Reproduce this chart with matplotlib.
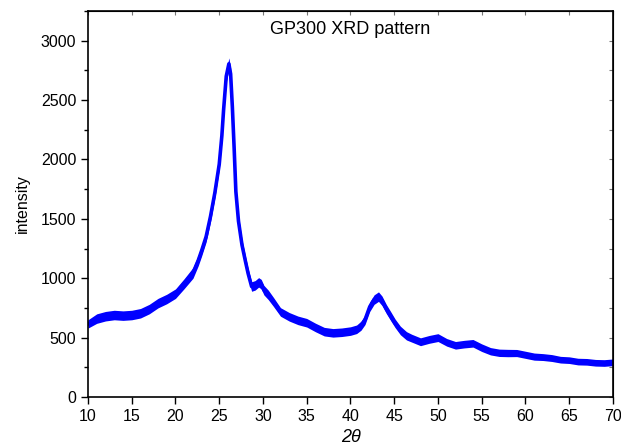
import matplotlib
matplotlib.use("Agg")
import matplotlib.pyplot as plt
from matplotlib.ticker import MultipleLocator

plt.rcParams['font.family'] = ['Liberation Sans', 'DejaVu Sans']

# values (centre of the noisy trace)
two_theta = [10, 11, 12, 13, 14, 15, 16, 17, 18, 19, 20, 21, 22,
             22.6, 23, 23.5, 24, 24.5, 25, 25.3, 25.5, 25.8, 26.1, 26.3, 26.5, 26.7,
             26.9, 27.2, 27.6, 28, 28.3, 28.7, 29.1, 29.5, 29.8, 30.1, 30.6, 31.2,
             32, 33, 34, 35, 36, 37, 38, 39, 40,
             40.7, 41.2, 41.66, 42.2, 42.7, 43.2, 43.6, 44.1, 44.6, 45.1, 45.7, 46.4,
             47, 48, 49, 50, 51, 52, 53, 54, 55, 56, 57, 58, 59, 60, 61, 62,
             63, 64, 65, 66, 67, 68, 69, 70]
intensity = [615, 660, 680, 690, 685, 690, 705, 740, 790, 825, 870, 955, 1045,
             1150, 1235, 1350, 1520, 1720, 1960, 2200, 2420, 2700, 2805, 2720, 2440, 2100,
             1730, 1480, 1280, 1140, 1040, 930, 940, 965, 950, 900, 860, 800,
             716, 675, 645, 625, 585, 550, 540, 545, 555,
             570, 600, 650, 760, 820, 845, 810, 740, 680, 620, 560, 515,
             495, 465, 485, 500, 460, 435, 445, 452, 415, 385, 372, 370, 370, 355, 340, 336,
             328, 314, 310, 298, 296, 288, 286, 292]
# half width of the noise band around the trace
spread = [35, 40, 40, 40, 40, 40, 40, 40, 40, 40, 40, 42, 45,
          45, 45, 45, 45, 45, 45, 50, 50, 50, 50, 50, 50, 50,
          45, 45, 45, 45, 42, 40, 40, 40, 40, 40, 40, 38,
          36, 36, 36, 36, 36, 36, 36, 36, 36,
          36, 38, 40, 40, 40, 40, 40, 38, 38, 36, 36, 35,
          33, 33, 33, 33, 32, 32, 32, 32, 32, 31, 31, 31, 30, 30, 30, 29,
          29, 28, 28, 28, 28, 28, 28, 28]

lower = [v - s for v, s in zip(intensity, spread)]
upper = [v + s for v, s in zip(intensity, spread)]

fig = plt.figure(figsize=(6.21, 4.47), dpi=100)
ax = fig.add_axes([0.1417, 0.1119, 0.8454, 0.8635])

ax.fill_between(two_theta, lower, upper, color='#0000ff', lw=0)
ax.plot(two_theta, intensity, color='#0000ff', lw=2.6)

ax.set_xlim(10, 70)
ax.set_ylim(0, 3250)
ax.xaxis.set_major_locator(MultipleLocator(5))
ax.yaxis.set_major_locator(MultipleLocator(500))
ax.yaxis.set_minor_locator(MultipleLocator(250))

ax.tick_params(axis='both', which='major', direction='out', length=5,
               width=1, labelsize=11.5, top=False, right=False)
ax.tick_params(axis='y', which='minor', direction='out', length=3, width=1)
for s in ax.spines.values():
    s.set_linewidth(1.2)

# secondary inward ticks on top and right
sec_x = ax.secondary_xaxis('top')
sec_x.xaxis.set_major_locator(MultipleLocator(5))
sec_x.tick_params(direction='in', length=3, labeltop=False, color='#777777')
sec_y = ax.secondary_yaxis('right')
sec_y.yaxis.set_major_locator(MultipleLocator(250))
sec_y.tick_params(direction='in', length=3, labelright=False, color='#777777')

ax.text(0.5, 0.975, 'GP300 XRD pattern', transform=ax.transAxes,
        ha='center', va='top', fontsize=13)
ax.set_xlabel('2θ', fontsize=13, style='italic', labelpad=4)
ax.set_ylabel('intensity', fontsize=11.5, labelpad=8)

fig.savefig('out.png', dpi=100)
